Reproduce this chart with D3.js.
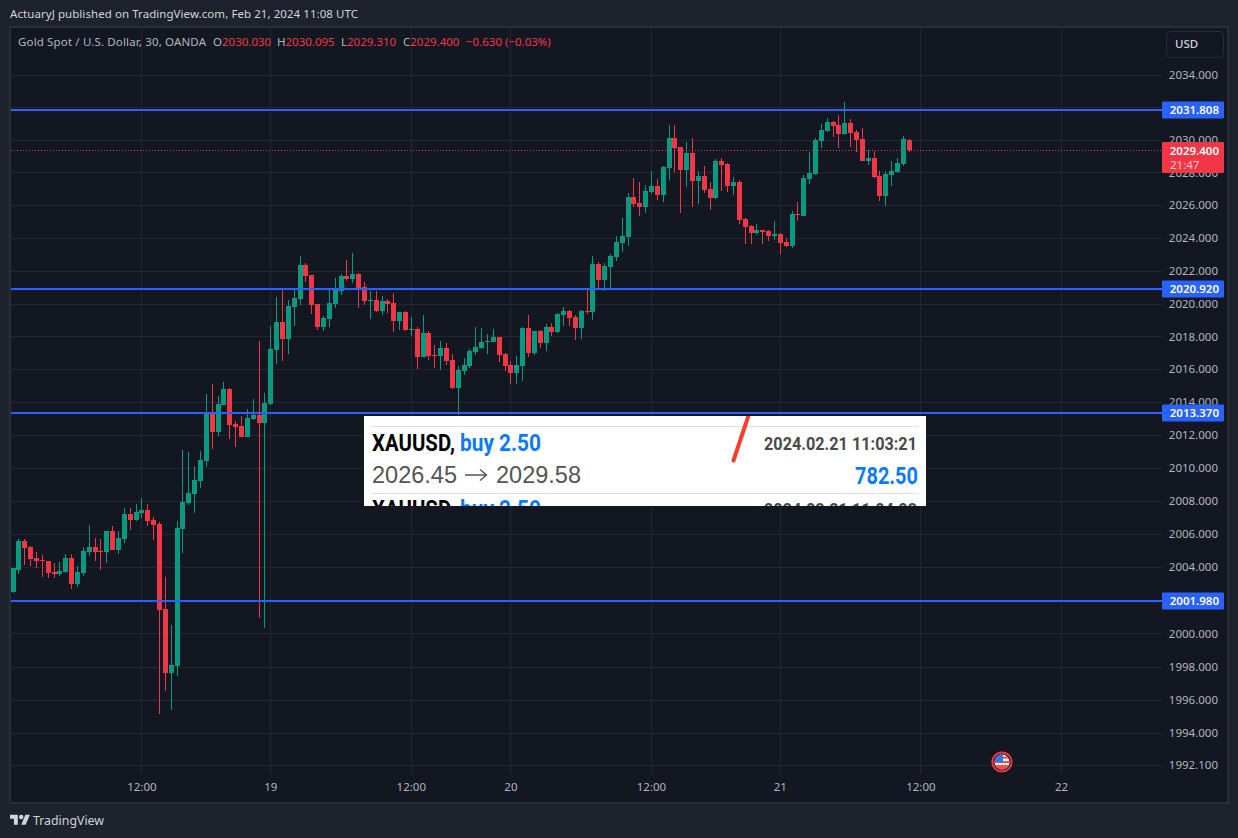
<!DOCTYPE html>
<html><head><meta charset="utf-8">
<script src="https://cdn.jsdelivr.net/npm/d3@7"></script>
<style>
html,body{margin:0;padding:0;background:#1e222d;}
svg{display:block;}
text{font-family:"Noto Sans",sans-serif;}
</style></head><body>
<svg id="c" width="1238" height="838"></svg>
<script>
const opens=[2002.55,2003.89,2005.60,2005.24,2004.57,2004.44,2004.38,2003.77,2003.65,2003.77,
2004.57,2003.04,2003.71,2004.93,2005.24,2004.99,2004.93,2006.21,2005.05,2005.72,
2007.25,2006.88,2007.31,2007.49,2006.88,2006.64,2001.50,1997.65,1998.08,2006.33,
2007.92,2008.47,2009.24,2010.46,2013.37,2012.21,2013.86,2014.83,2012.70,2012.58,
2011.91,2013.00,2013.25,2012.76,
2013.92,2017.21,2018.91,2017.88,2019.83,2020.32,2022.39,2021.78,2020.01,2018.61,
2019.10,2020.01,2020.80,2021.72,2021.53,2021.84,2021.05,2020.19,2020.25,2019.58,
2020.19,2020.07,2018.97,2019.52,2018.43,2018.49,2016.78,2018.24,2016.90,2016.84,
2017.33,2016.60,2014.89,2015.93,2016.23,2017.09,2017.33,2017.70,2017.70,2018.00,
2016.96,2016.29,2015.81,2016.23,2018.55,2017.02,2018.37,2017.63,2018.61,2018.30,
2019.34,2019.58,2019.22,2018.55,2019.58,2019.52,
2022.46,2021.48,2022.27,2022.88,2023.74,2024.10,2026.54,2026.17,2025.93,2026.84,
2027.21,2026.66,2028.31,2030.13,2029.59,2028.18,2029.22,2027.51,2027.82,2027.03,
2026.48,2028.73,2028.55,2027.21,2027.45,2025.20,2024.77,2024.35,2024.53,2024.47,
2024.16,2024.29,2023.80,2023.55,2025.50,2025.38,2027.64,2027.94,2029.95,2030.56,
2031.11,2030.93,2030.38,2031.05,2030.50,2030.07,2028.73,2028.92,2027.82,2026.60,
2027.88,2028.06,2028.55,2030.03];
const closes=[2003.96,2005.60,2005.17,2004.50,2004.38,2004.38,2003.71,2003.65,2003.83,2004.57,
2003.04,2003.77,2004.99,2005.24,2004.93,2004.93,2006.21,2005.05,2005.78,2007.25,
2006.88,2007.37,2007.49,2006.82,2006.58,2001.44,1997.65,1998.14,2006.39,2007.98,
2008.53,2009.32,2010.52,2013.37,2012.21,2013.92,2014.83,2012.64,2012.52,2011.91,
2013.07,2013.25,2012.76,2013.98,
2017.27,2018.91,2017.88,2019.89,2020.38,2022.39,2021.72,2019.95,2018.61,2019.16,
2020.07,2020.86,2021.72,2021.53,2021.84,2020.99,2020.19,2020.25,2019.58,2020.19,
2020.01,2018.97,2019.52,2018.43,2018.49,2016.78,2018.24,2016.84,2016.84,2017.33,
2016.54,2014.89,2015.99,2016.29,2017.15,2017.39,2017.70,2017.76,2018.00,2016.90,
2016.23,2015.81,2016.29,2018.55,2017.02,2018.37,2017.63,2018.61,2018.30,2019.40,
2019.58,2019.16,2018.55,2019.58,2019.52,2022.45,
2021.48,2022.34,2022.94,2023.80,2024.16,2026.54,2026.11,2025.93,2026.91,2027.21,
2026.66,2028.37,2030.13,2029.53,2028.18,2029.22,2027.51,2027.82,2026.97,2026.48,
2028.73,2028.49,2027.21,2027.45,2025.14,2024.71,2024.35,2024.53,2024.41,2024.16,
2024.29,2023.74,2023.55,2025.50,2025.44,2027.70,2028.00,2030.01,2030.62,2031.11,
2030.87,2030.38,2031.05,2030.44,2030.01,2028.73,2028.92,2027.76,2026.60,2027.94,
2028.12,2028.61,2030.07,2029.40];
const highs=[2003.96,2005.72,2005.72,2005.30,2004.93,2004.75,2004.38,2004.26,2004.32,2004.81,
2004.81,2004.08,2005.24,2006.58,2005.78,2005.72,2006.21,2006.52,2006.21,2007.61,
2007.61,2007.86,2008.22,2007.86,2007.06,2006.76,2003.43,2000.54,2006.82,2011.13,
2011.00,2010.15,2011.07,2014.53,2015.14,2014.41,2015.26,2014.89,2012.88,2013.19,
2013.61,2014.22,2017.75,2014.59,
2018.67,2020.44,2020.92,2020.25,2020.86,2022.94,2022.51,2021.78,2020.01,2019.28,
2020.92,2021.59,2021.84,2022.69,2023.12,2021.90,2021.35,2020.80,2020.80,2020.50,
2020.32,2020.68,2019.52,2019.58,2019.22,2018.61,2019.34,2018.37,2017.51,2017.76,
2017.63,2016.96,2016.23,2016.72,2017.27,2018.61,2018.55,2018.18,2018.49,2018.00,
2017.02,2016.54,2016.84,2018.61,2019.34,2018.37,2018.43,2018.79,2018.85,2019.46,
2019.83,2019.64,2019.34,2019.64,2020.99,2022.94,
2022.58,2022.52,2023.07,2024.16,2025.26,2026.78,2027.70,2027.45,2027.27,2028.12,
2027.64,2028.43,2030.93,2030.93,2029.59,2029.89,2030.13,2028.12,2028.43,2027.45,
2028.86,2028.92,2028.61,2027.76,2027.58,2025.26,2024.83,2024.89,2024.53,2024.53,
2025.08,2024.35,2024.04,2025.69,2026.24,2027.88,2029.28,2030.13,2030.99,2031.35,
2031.17,2031.54,2032.33,2031.29,2030.62,2030.74,2029.40,2029.34,2028.12,2028.12,
2028.73,2028.92,2030.26,2030.095];
const lows=[2002.49,2003.59,2004.14,2004.08,2003.96,2003.41,2003.35,2003.35,2003.47,2003.71,
2002.74,2002.86,2003.47,2004.69,2004.38,2003.89,2004.26,2005.05,2004.81,2005.48,
2006.27,2006.82,2007.00,2006.52,2005.66,1995.17,1996.57,1995.41,1997.47,2004.87,
2007.79,2007.31,2008.83,2010.09,2011.19,2011.98,2013.86,2011.80,2011.31,2011.91,
2011.91,2012.94,2000.97,2000.36,
2013.86,2016.35,2016.54,2016.96,2018.67,2019.95,2021.35,2019.40,2018.43,2018.37,
2018.61,2019.77,2020.56,2021.41,2021.29,2019.77,2019.95,2019.10,2019.52,2019.34,
2019.46,2018.30,2018.43,2018.37,2018.06,2016.05,2016.78,2016.60,2016.11,2015.99,
2016.29,2014.83,2013.25,2015.68,2016.11,2016.90,2017.27,2016.96,2017.70,2016.48,
2015.93,2015.14,2015.14,2015.32,2016.78,2016.90,2017.33,2017.15,2018.06,2018.24,
2018.67,2018.67,2017.82,2017.88,2019.40,2019.04,
2020.99,2020.81,2020.99,2022.64,2023.19,2023.55,2025.93,2025.38,2025.56,2026.72,
2026.36,2026.24,2027.58,2028.06,2025.56,2027.15,2025.93,2026.11,2026.78,2025.75,
2026.42,2026.91,2026.84,2026.66,2024.89,2023.68,2023.68,2024.22,2023.68,2023.86,
2023.92,2023.07,2023.49,2023.43,2025.08,2025.38,2027.33,2027.88,2029.53,2030.50,
2030.20,2029.53,2030.32,2029.59,2029.28,2028.73,2028.49,2027.70,2026.30,2025.99,
2027.21,2028.00,2028.43,2029.31];
const priceTicks=[2034,2032,2030,2028,2026,2024,2022,2020,2018,2016,2014,2012,2010,2008,2006,2004,2002,2000,1998,1996,1994,1992.1];
const priceLabels=[2034,2030,2028,2026,2024,2022,2020,2018,2016,2014,2012,2010,2008,2006,2004,2000,1998,1996,1994,1992.1];
const timeTickIndex=[22,44,68,85,109,131,155,179];
const timeTickLabels=["12:00","19","12:00","20","12:00","21","12:00","22"];
const levels=[2031.808,2020.92,2013.37,2001.98];
const lastPrice=2029.4;
const countdown="21:47";
const currency="USD";
const headerText="ActuaryJ published on TradingView.com, Feb 21, 2024 11:08 UTC";
const symbolText="Gold Spot / U.S. Dollar, 30, OANDA";
const ohlcLabels=["O","H","L","C"];
const ohlcValues=["2030.030","2030.095","2029.310","2029.400"];
const changeText="\u22120.630 (\u22120.03%)";

const GREEN="#089981",RED="#f23645",BLUE="#2962ff",GRID="#22262f",AXIS="#b2b5be",BORDER="#2a2e39";
const FONT='"Noto Sans",sans-serif';
const svg=d3.select("#c");
const L=11,T=28,R=1162,B=775;
svg.append("rect").attr("width",1238).attr("height",838).attr("fill","#1e222d");
svg.append("rect").attr("x",10).attr("y",27).attr("width",1218).attr("height",776)
  .attr("fill","#131722").attr("stroke",BORDER).attr("stroke-width",2);

const x=d3.scaleLinear().domain([0,153]).range([13,909.2]);
const y=d3.scaleLog().domain([1992.1,2034]).range([765.2,75]);
const px=i=>Math.floor(x(i));

// grid through axes
const gy=svg.append("g").attr("transform",`translate(${R},0)`)
  .call(d3.axisLeft(y).tickValues(priceTicks).tickSize(R-L).offset(0).tickFormat(""));
gy.select(".domain").remove();
gy.selectAll("line").attr("stroke",GRID).attr("shape-rendering","crispEdges");
const gx=svg.append("g").attr("transform",`translate(0,${B})`)
  .call(d3.axisTop(x).tickValues(timeTickIndex).tickSize(B-T).offset(0).tickFormat(""));
gx.select(".domain").remove();
gx.selectAll("line").attr("stroke",GRID).attr("shape-rendering","crispEdges");

// axis labels
const ay=svg.append("g").attr("transform",`translate(${R},0)`)
  .call(d3.axisRight(y).tickValues(priceLabels).tickSize(0).offset(0).tickFormat(d3.format(".3f")));
ay.select(".domain").remove();
ay.selectAll("text").attr("x",56).attr("text-anchor","end").attr("fill",AXIS).attr("font-size",11.5).attr("font-family",FONT);
const ax=svg.append("g").attr("transform","translate(0,783)")
  .call(d3.axisBottom(x).tickValues(timeTickIndex).tickSize(0).tickPadding(0).offset(0).tickFormat((d,i)=>timeTickLabels[i]));
ax.select(".domain").remove();
ax.selectAll("text").attr("fill",AXIS).attr("font-size",11.5).attr("font-family",FONT);

// candles
const idx=d3.range(opens.length);
const color=i=>closes[i]>=opens[i]?GREEN:RED;
svg.append("g").selectAll("line").data(idx).join("line")
  .attr("x1",i=>px(i)+.5).attr("x2",i=>px(i)+.5)
  .attr("y1",i=>y(highs[i])).attr("y2",i=>y(lows[i]))
  .attr("stroke",color).attr("stroke-width",1).attr("shape-rendering","crispEdges");
svg.append("g").selectAll("rect").data(idx).join("rect")
  .attr("x",i=>px(i)-2).attr("width",5)
  .attr("y",i=>Math.min(y(opens[i]),y(closes[i])))
  .attr("height",i=>Math.max(1,Math.abs(y(opens[i])-y(closes[i]))))
  .attr("fill",color).attr("shape-rendering","crispEdges");

const lvl=d=>Math.round(y(d)-.4);
// horizontal levels
svg.append("g").selectAll("line").data(levels).join("line")
  .attr("x1",L).attr("x2",R).attr("y1",lvl).attr("y2",lvl)
  .attr("stroke",BLUE).attr("stroke-width",2);
// last price
const ly=Math.floor(y(lastPrice))+.5;
svg.append("line").attr("x1",L).attr("x2",R).attr("y1",ly).attr("y2",ly)
  .attr("stroke",RED).attr("stroke-width",1).attr("stroke-dasharray","1 2").attr("shape-rendering","crispEdges");

// level tags
const tg=svg.append("g").selectAll("g").data(levels).join("g").attr("transform",d=>`translate(0,${lvl(d)})`);
tg.append("rect").attr("x",R).attr("y",-8.5).attr("width",62).attr("height",17).attr("fill",BLUE).attr("rx",1);
tg.append("text").attr("x",1219).attr("y",4).attr("text-anchor","end").attr("fill","#fff").attr("font-size",11.5).attr("font-weight",600).text(d=>d.toFixed(3));
// last tag
svg.append("rect").attr("x",R).attr("y",ly-8.5).attr("width",62).attr("height",31).attr("fill",RED).attr("rx",1);
svg.append("text").attr("x",1219).attr("y",ly+4).attr("text-anchor","end").attr("fill","#fff").attr("font-size",11.5).attr("font-weight",600).text(lastPrice.toFixed(3));
svg.append("text").attr("x",1170).attr("y",ly+18.5).attr("fill","#ffc8cc").attr("font-size",11.5).text(countdown);

// USD button
svg.append("rect").attr("x",1166.5).attr("y",31.5).attr("width",57).attr("height",26).attr("rx",4).attr("fill","#131722").attr("stroke","#2a2e39");
svg.append("text").attr("x",1175).attr("y",48).attr("fill","#d1d4dc").attr("font-size",11.5).attr("font-weight",500).text(currency);

// header
svg.append("text").attr("x",10).attr("y",18).attr("textLength",348).attr("lengthAdjust","spacing").attr("fill","#d1d4dc").attr("font-size",11.5).text(headerText);
const leg=svg.append("g").attr("font-size",11.5);
leg.append("text").attr("x",18).attr("y",46).attr("textLength",188).attr("lengthAdjust","spacing").attr("fill","#b2b5be").text(symbolText);
const legX=[213,277,341,403];
ohlcLabels.forEach((k,i)=>{
  const t=leg.append("text").attr("x",legX[i]).attr("y",46).attr("fill","#b2b5be");
  t.append("tspan").text(k);
  t.append("tspan").attr("fill",RED).text(ohlcValues[i]);
});
leg.append("text").attr("x",466).attr("y",46).attr("fill",RED).text(changeText);

// news flag
const fg=svg.append("g").attr("transform","translate(1002,762)");
svg.append("clipPath").attr("id","flagclip").append("circle").attr("r",7.5);
const fi=fg.append("g").attr("clip-path","url(#flagclip)");
fi.append("rect").attr("x",-8).attr("y",-8).attr("width",16).attr("height",16).attr("fill","#fff");
fi.append("rect").attr("x",-8).attr("y",-5.5).attr("width",16).attr("height",2.2).attr("fill","#ef5350");
fi.append("rect").attr("x",-8).attr("y",-1).attr("width",16).attr("height",2.2).attr("fill","#ef5350");
fi.append("rect").attr("x",-8).attr("y",3).attr("width",16).attr("height",5).attr("fill","#ef5350");
fi.append("rect").attr("x",-8).attr("y",-8).attr("width",9).attr("height",8).attr("fill","#2a7be4");
fg.append("circle").attr("r",9.6).attr("fill","none").attr("stroke",RED).attr("stroke-width",2);

// overlay box
const box=svg.append("g");
svg.append("clipPath").attr("id","boxclip").append("rect").attr("x",364).attr("y",416).attr("width",562).attr("height",90);
box.attr("clip-path","url(#boxclip)");
box.append("rect").attr("x",364).attr("y",416).attr("width",562).attr("height",90).attr("fill","#fff");
box.append("line").attr("x1",372).attr("x2",918).attr("y1",426.5).attr("y2",426.5).attr("stroke","#dedede");
box.append("line").attr("x1",372).attr("x2",918).attr("y1",493.5).attr("y2",493.5).attr("stroke","#dedede");
const bt=(t,x0,w,yy,fs,fw,fill,fam)=>box.append("text").attr("x",x0).attr("y",yy).attr("textLength",w).attr("lengthAdjust","spacingAndGlyphs")
  .attr("font-size",fs).attr("font-weight",fw).attr("fill",fill).style("font-family",fam||"Roboto,sans-serif").text(t);
bt("XAUUSD,",372,83,451,23,700,"#000");
bt("buy 2.50",460,81,451,23,700,"#0a7aff");
bt("2024.02.21 11:03:21",764,153,450,18,700,"#4a4a4a");
bt("2026.45",372,85,483,24,400,"#555","'Liberation Sans',sans-serif");
box.append("path").attr("d","M465 475H486M480 469.5L486.5 475L480 480.5").attr("fill","none").attr("stroke","#555").attr("stroke-width",1.4);
bt("2029.58",496,85,483,24,400,"#555","'Liberation Sans',sans-serif");
bt("782.50",855,63,484,24,700,"#0a7aff");
bt("XAUUSD,",372,83,517,23,700,"#000");
bt("buy 2.50",460,81,517,23,700,"#0a7aff");
bt("2024.02.21 11:04:03",764,153,516,18,700,"#4a4a4a");
box.append("line").attr("x1",749).attr("y1",414).attr("x2",733.5).attr("y2",460.5).attr("stroke","#ff3b30").attr("stroke-width",4).attr("stroke-linecap","round");

// TradingView logo
const logo=svg.append("g").attr("transform","translate(10,812.5) scale(.56)").attr("fill","#d1d4dc");
logo.append("path").attr("d","M14 22H7V11H0V4h14v18zM28 22h-8l7.5-18h8L28 22z");
logo.append("circle").attr("cx",20).attr("cy",8).attr("r",4);
svg.append("text").attr("x",33).attr("y",825).attr("textLength",71).attr("lengthAdjust","spacingAndGlyphs").attr("fill","#d1d4dc").attr("font-size",13).text("TradingView");
</script>
</body></html>
